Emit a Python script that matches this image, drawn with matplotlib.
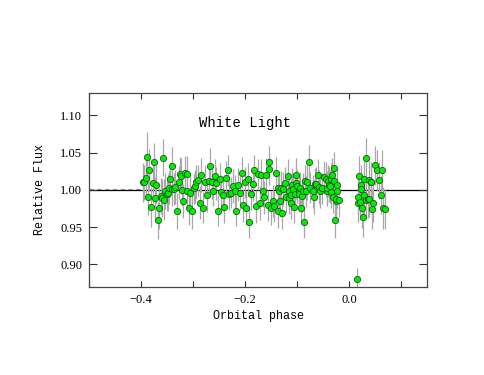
import numpy as np
import matplotlib
matplotlib.use("Agg")
import matplotlib.pyplot as plt
from matplotlib.ticker import MultipleLocator, FixedLocator

# orbital phase of each exposure
phase = [-0.397, -0.394, -0.391, -0.388, -0.387, -0.384, -0.381, -0.378, -0.375, -0.374,
         -0.371, -0.368, -0.365, -0.362, -0.360, -0.358, -0.357, -0.354, -0.351, -0.349,
         -0.346, -0.344, -0.341, -0.340, -0.337, -0.334, -0.331, -0.328, -0.326, -0.324,
         -0.321, -0.319, -0.315, -0.312, -0.311, -0.308, -0.306, -0.302, -0.299, -0.296,
         -0.294, -0.290, -0.287, -0.284, -0.280, -0.277, -0.274, -0.270, -0.267, -0.264,
         -0.261, -0.258, -0.255, -0.252, -0.248, -0.246, -0.243, -0.240, -0.236, -0.233,
         -0.230, -0.227, -0.224, -0.220, -0.217, -0.213, -0.210, -0.206, -0.204, -0.201,
         -0.198, -0.195, -0.192, -0.188, -0.185, -0.182, -0.178, -0.175, -0.172, -0.169,
         -0.166, -0.163, -0.160, -0.156, -0.154, -0.153, -0.150, -0.147, -0.144, -0.141,
         -0.137, -0.137, -0.134, -0.132, -0.130, -0.128, -0.126, -0.123, -0.121, -0.118,
         -0.116, -0.115, -0.112, -0.111, -0.109, -0.107, -0.105, -0.103, -0.102, -0.101,
         -0.099, -0.097, -0.096, -0.095, -0.093, -0.091, -0.089, -0.086, -0.085, -0.083,
         -0.080, -0.077, -0.074, -0.070, -0.068, -0.066, -0.063, -0.060, -0.058, -0.055,
         -0.051, -0.048, -0.045, -0.043, -0.042, -0.040, -0.038, -0.036, -0.035, -0.034,
         -0.032, -0.031, -0.029, -0.028, -0.026, -0.024, -0.024, -0.022, -0.022, -0.020,
         0.017, 0.018, 0.020, 0.022, 0.024, 0.024, 0.026, 0.027, 0.029, 0.030,
         0.032, 0.033, 0.036, 0.038, 0.039, 0.042, 0.043, 0.045, 0.047, 0.051,
         0.055, 0.058, 0.061, 0.064, 0.066, 0.070, 0.015]

flux = [1.010, 1.010, 1.016, 1.044, 0.991, 1.027, 0.977, 1.009, 1.038, 0.989,
        1.007, 0.959, 0.975, 0.992, 0.989, 1.043, 0.987, 0.998, 0.994, 0.996,
        1.003, 1.014, 1.001, 1.032, 1.001, 1.004, 0.972, 1.010, 1.021, 1.019,
        1.000, 0.985, 1.023, 1.021, 0.998, 0.976, 0.996, 0.972, 1.002, 1.005,
        1.011, 1.013, 0.983, 1.020, 0.976, 1.011, 0.993, 1.012, 1.032, 1.010,
        0.999, 1.019, 1.009, 0.972, 1.014, 0.997, 0.993, 0.977, 1.016, 1.026,
        0.995, 0.996, 1.005, 0.998, 0.972, 1.007, 0.996, 1.023, 0.979, 1.010,
        0.976, 1.014, 0.957, 0.995, 1.008, 1.026, 0.978, 1.021, 0.982, 1.020,
        0.998, 0.990, 1.020, 0.979, 1.037, 1.028, 0.976, 0.985, 0.978, 1.022,
        1.003, 0.971, 0.998, 0.985, 1.003, 0.969, 1.001, 1.009, 0.990, 1.019,
        0.998, 0.989, 0.993, 0.982, 1.006, 1.001, 0.977, 0.995, 1.020, 1.009,
        1.005, 0.999, 0.995, 1.002, 0.976, 0.992, 0.999, 0.957, 1.012, 0.998,
        1.010, 1.038, 1.003, 0.998, 0.990, 1.008, 1.008, 1.020, 1.004, 0.998,
        1.002, 1.017, 1.014, 0.999, 1.003, 1.012, 1.007, 1.005, 1.015, 0.997,
        1.020, 0.991, 1.012, 1.029, 0.959, 0.985, 0.988, 0.999, 1.007, 0.987,
        0.991, 0.983, 1.019, 0.984, 1.007, 1.001, 0.976, 0.963, 1.014, 0.993,
        1.043, 0.987, 0.988, 1.013, 0.988, 1.011, 1.010, 0.974, 0.982, 1.033,
        1.026, 1.013, 0.993, 1.026, 0.976, 0.974, 0.880]

flux_err = [0.026, 0.024, 0.027, 0.033, 0.025, 0.028, 0.027, 0.026, 0.025, 0.028,
            0.026, 0.025, 0.027, 0.024, 0.026, 0.025, 0.027, 0.024, 0.023, 0.025,
            0.022, 0.024, 0.023, 0.025, 0.022, 0.023, 0.024, 0.022, 0.023, 0.024,
            0.022, 0.023, 0.022, 0.024, 0.021, 0.023, 0.022, 0.024, 0.021, 0.022,
            0.023, 0.021, 0.022, 0.023, 0.021, 0.022, 0.023, 0.021, 0.024, 0.022,
            0.021, 0.023, 0.022, 0.021, 0.022, 0.023, 0.021, 0.022, 0.023, 0.021,
            0.022, 0.021, 0.023, 0.022, 0.021, 0.022, 0.023, 0.021, 0.022, 0.021,
            0.023, 0.022, 0.021, 0.022, 0.023, 0.021, 0.022, 0.021, 0.023, 0.022,
            0.021, 0.022, 0.023, 0.021, 0.022, 0.021, 0.023, 0.022, 0.021, 0.022,
            0.021, 0.022, 0.023, 0.021, 0.022, 0.021, 0.023, 0.022, 0.021, 0.022,
            0.023, 0.021, 0.022, 0.021, 0.023, 0.022, 0.021, 0.022, 0.023, 0.021,
            0.022, 0.021, 0.023, 0.022, 0.021, 0.022, 0.023, 0.021, 0.022, 0.021,
            0.023, 0.022, 0.021, 0.022, 0.023, 0.021, 0.022, 0.021, 0.023, 0.022,
            0.021, 0.022, 0.023, 0.021, 0.022, 0.021, 0.023, 0.022, 0.021, 0.022,
            0.023, 0.022, 0.021, 0.022, 0.023, 0.024, 0.022, 0.023, 0.022, 0.023,
            0.025, 0.026, 0.027, 0.025, 0.026, 0.024, 0.027, 0.026, 0.025, 0.026,
            0.027, 0.025, 0.026, 0.027, 0.025, 0.026, 0.024, 0.027, 0.025, 0.026,
            0.027, 0.025, 0.026, 0.027, 0.028, 0.027, 0.015]

xtick_vals = [-0.4, -0.2, 0.0]
ytick_vals = [0.90, 0.95, 1.00, 1.05, 1.10]

fig = plt.figure(figsize=(4.85, 3.75), dpi=100)
ax = fig.add_axes([0.184, 0.2355, 0.696, 0.5165])

ax.axhline(1.0, color='black', lw=0.9, zorder=1)
ax.plot([-0.5, -0.4], [1.0015, 1.0015], color='#888888', lw=0.8, ls=(0, (4, 3)), zorder=1)

ax.errorbar(phase, flux, yerr=flux_err, fmt='none', ecolor='#a8a8a8', elinewidth=0.9,
            capsize=0, zorder=2)
ax.plot(phase, flux, 'o', ms=4.5, mfc='#00ee00', mec='#225522', mew=0.6, zorder=3)

ax.text(-0.2, 1.090, 'White Light', ha='center', va='center',
        fontsize=10, family='Liberation Mono')

ax.set_xlim(-0.5, 0.15)
ax.set_ylim(0.87, 1.13)
ax.xaxis.set_major_locator(FixedLocator(xtick_vals))
ax.xaxis.set_minor_locator(MultipleLocator(0.1))
ax.yaxis.set_major_locator(FixedLocator(ytick_vals))
ax.set_xticklabels(['\u22120.4', '\u22120.2', '0.0'], family='Liberation Serif', fontsize=9)
ax.set_yticklabels(['%.2f' % v for v in ytick_vals], family='Liberation Serif', fontsize=9)
ax.tick_params(axis='x', which='both', direction='in', top=True, length=4, width=0.8,
               color='#333333', pad=5)
ax.tick_params(axis='y', which='both', direction='in', right=True, length=6, width=0.8,
               color='#333333', pad=5)
for s in ax.spines.values():
    s.set_color('#444444')
    s.set_linewidth(0.9)

ax.set_xlabel('Orbital phase', family='Liberation Mono', fontsize=8.5, labelpad=3)
ax.set_ylabel('Relative Flux', family='Liberation Mono', fontsize=8.5, labelpad=10)

fig.savefig('out.png', dpi=100)
